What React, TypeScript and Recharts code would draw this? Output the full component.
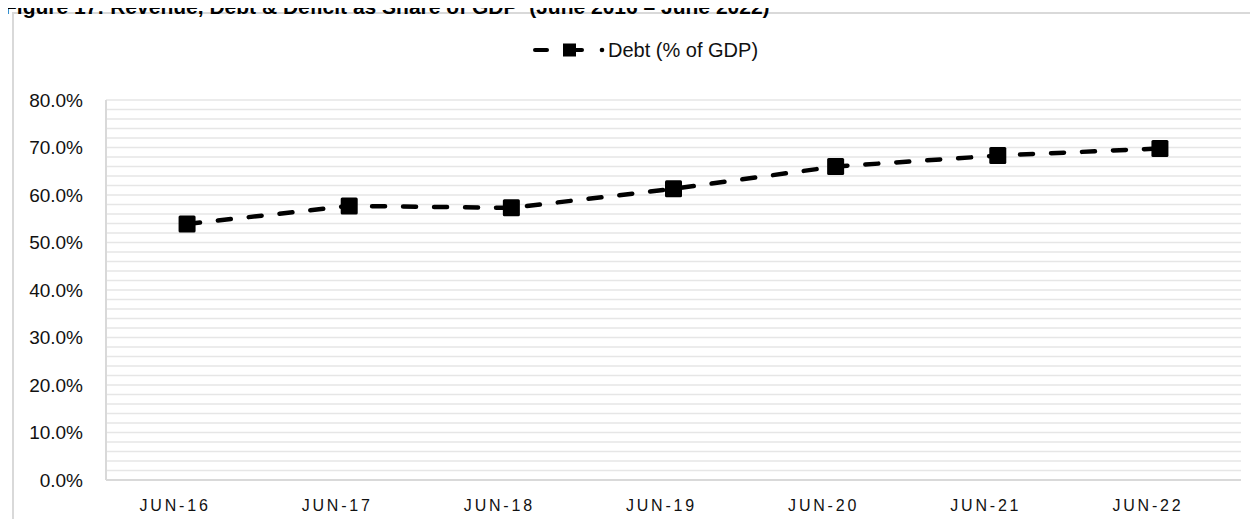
import React from "react";
import { LineChart, Line, XAxis, YAxis, CartesianGrid } from "recharts";

const categories = ["JUN-16", "JUN-17", "JUN-18", "JUN-19", "JUN-20", "JUN-21", "JUN-22"];
const debtPct = [53.9, 57.7, 57.3, 61.3, 66.0, 68.3, 69.8];
const yTicks = [0, 10, 20, 30, 40, 50, 60, 70, 80];
const gridValues = [0, 2, 4, 6, 8, 10, 12, 14, 16, 18, 20, 22, 24, 26, 28, 30, 32, 34, 36, 38, 40, 42, 44, 46, 48, 50, 52, 54, 56, 58, 60, 62, 64, 66, 68, 70, 72, 74, 76, 78, 80];
const edgeTicks = [0, 1, 2, 3, 4, 5, 6, 7];

const data = categories.map((c, i) => ({ name: c, debt: debtPct[i] }));

const FONT = '"Liberation Sans", Arial, sans-serif';
const AXIS = "#d9d9d9";

function SquareDot(props: any) {
  const { cx, cy, index } = props;
  if (cx == null || cy == null) return null;
  return <rect key={"d" + index} x={cx - 8.5} y={cy - 8.5} width={17} height={17} rx={1.5} fill="#000" />;
}

export default function App() {
  return (
    <div style={{ position: "relative", width: 1258, height: 527, margin: -8, overflow: "hidden", background: "#fff", fontFamily: FONT }}>
      <div style={{ position: "absolute", left: 12, top: 12, width: 1270, height: 540, border: "2px solid #d9d9d9", boxSizing: "border-box" }} />
      <div style={{ position: "absolute", left: 4, top: -5, fontSize: 21, fontWeight: "bold", color: "#000", whiteSpace: "nowrap", lineHeight: "24px" }}>
        Figure 17: Revenue, Debt &amp; Deficit as Share of GDP&nbsp; (June 2016 – June 2022)
      </div>

      <div style={{ position: "absolute", left: 530, top: 38, height: 24, display: "flex", alignItems: "center" }}>
        <svg width={78} height={24}>
          <line x1={5} y1={12} x2={17} y2={12} stroke="#000" strokeWidth={4} strokeLinecap="round" />
          <line x1={40} y1={12} x2={52} y2={12} stroke="#000" strokeWidth={4} strokeLinecap="round" />
          <rect x={33} y={5.5} width={13} height={13} fill="#000" />
          <circle cx={72} cy={12} r={2.3} fill="#000" />
        </svg>
        <span style={{ fontSize: 20, color: "#111" }}>Debt (% of GDP)</span>
      </div>

      <div style={{ position: "absolute", left: 0, top: 0 }}>
        <LineChart width={1258} height={527} data={data} margin={{ top: 100, right: 17, bottom: 0, left: 0 }}>
          <CartesianGrid vertical={false} horizontalValues={gridValues} stroke="#e6e6e6" strokeWidth={1.5} />
          <XAxis
            xAxisId="edges"
            type="number"
            domain={[0, 7]}
            ticks={edgeTicks}
            tick={false}
            axisLine={false}
            tickLine={{ stroke: AXIS, strokeWidth: 2 }}
            tickSize={6}
            height={0}
          />
          <XAxis
            dataKey="name"
            scale="band"
            height={47}
            axisLine={{ stroke: AXIS, strokeWidth: 2 }}
            tickLine={false}
            tickSize={0}
            tickMargin={20}
            tick={{ fontSize: 16, fill: "#111", fontFamily: FONT, letterSpacing: 2.8, dx: -12 }}
          />
          <YAxis
            width={106}
            domain={[0, 80]}
            ticks={yTicks}
            interval={0}
            axisLine={{ stroke: AXIS, strokeWidth: 2 }}
            tickLine={false}
            tickSize={0}
            tickMargin={23}
            tickFormatter={(v: number) => v.toFixed(1) + "%"}
            tick={{ fontSize: 19, fill: "#111", fontFamily: FONT }}
          />
          <Line
            dataKey="debt"
            stroke="#000"
            strokeWidth={4.5}
            strokeDasharray="13 18"
            strokeLinecap="round"
            dot={SquareDot}
            activeDot={false}
            isAnimationActive={false}
          />
        </LineChart>
      </div>
    </div>
  );
}
